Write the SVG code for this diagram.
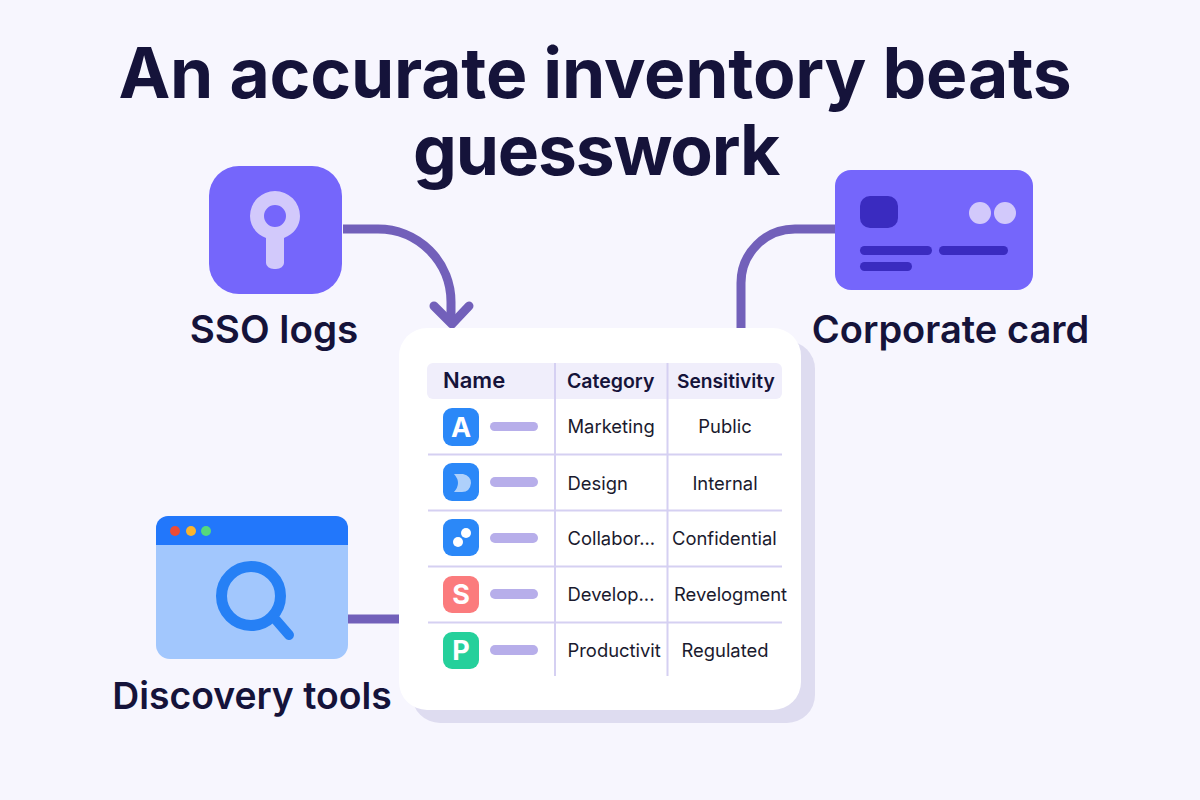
<svg xmlns="http://www.w3.org/2000/svg" width="1200" height="800" viewBox="0 0 1200 800">
<style>
text{font-family:Inter,"Liberation Sans",sans-serif;fill:#15133a}
.t{font-size:69.500px;font-weight:700;text-anchor:middle;letter-spacing:-.2px}
.l{font-size:38px;font-weight:600;text-anchor:middle}
.h{font-size:19.500px;font-weight:600}
.c{font-size:18.400px;font-weight:400;fill:#1a1a2e}
.m{text-anchor:middle}
.w{fill:#fff;font-size:27px;font-weight:700;text-anchor:middle}
.g{stroke:#d5d0f2;stroke-width:2;fill:none}
.b{fill:#b7aeea}
.d{fill:#3a2bc0}
.cn{fill:none;stroke:#7260ba;stroke-width:9}
</style>
<rect width="1200" height="800" fill="#f7f6fe"/>
<g id="title"><text class="t" x="595" y="98">An accurate inventory beats</text><text class="t" x="596" y="175" style="letter-spacing:-1.200px">guesswork</text></g>
<g id="connectors">
<path class="cn" d="M343 229H378A73 73 0 0 1 451 302V324"/>
<path class="cn" stroke-linecap="round" stroke-linejoin="round" d="M434 306L452 324L469 306"/>
<path class="cn" d="M835 229H795A54 54 0 0 0 741 283V328"/>
<path class="cn" d="M348 619H400"/>
</g>
<g id="sso-logs">
<rect x="209" y="166" width="133" height="128" rx="30" fill="#7566fb"/>
<path fill-rule="evenodd" fill="#d2c9fb" d="M250 216a25 25 0 0 1 50 0c0 10-6 18-16 22v25a8 6 0 0 1-8 6h-2a8 6 0 0 1-8-6v-25c-10-4-16-12-16-22zm14 0a11 11 0 1 0 22 0a11 11 0 1 0-22 0z"/>
<text class="l" x="274" y="343" style="font-size:38.600px">SSO logs</text>
</g>
<g id="corporate-card">
<rect x="835" y="170" width="198" height="120" rx="16" fill="#7566fb"/>
<rect x="860" y="196" width="38" height="32" rx="10" class="d"/>
<circle cx="980" cy="213" r="11" fill="#d2c9fb"/><circle cx="1005" cy="213" r="11" fill="#d2c9fb"/>
<rect x="860" y="246" width="72" height="9" rx="4.500" class="d"/><rect x="939" y="246" width="69" height="9" rx="4.500" class="d"/><rect x="860" y="262" width="52" height="9" rx="4.500" class="d"/>
<text class="l" x="950.500" y="343">Corporate card</text>
</g>
<g id="discovery-tools">
<path d="M156 545H348V645a14 14 0 0 1-14 14H170a14 14 0 0 1-14-14z" fill="#a2c7fd"/>
<path d="M156 545V528a12 12 0 0 1 12-12H336a12 12 0 0 1 12 12V545z" fill="#2277fb"/>
<circle cx="175" cy="531" r="5" fill="#ee4b35"/><circle cx="191" cy="531" r="5" fill="#fbb42c"/><circle cx="206" cy="531" r="5" fill="#55d97c"/>
<circle cx="251" cy="596" r="29.500" fill="none" stroke="#2680f5" stroke-width="11"/>
<path d="M276 620L289 635" stroke="#2680f5" stroke-width="10" stroke-linecap="round"/>
<text class="l" x="252" y="709" style="font-size:37.300px">Discovery tools</text>
</g>
<g id="inventory-table">
<rect x="412" y="341" width="403" height="382" rx="28" fill="#dedcf0"/>
<rect x="399" y="328" width="402" height="382" rx="28" fill="#fff"/>
<rect x="427" y="363" width="355" height="36" rx="6" fill="#f0eefb"/>
<path class="g" d="M555 363V676M667.500 363V676M428 454.500H782M428 510.500H782M428 566.500H782M428 622.500H782"/>
<text class="h" x="443" y="388" style="font-size:22px">Name</text><text class="h" x="567" y="388">Category</text><text class="h" x="677" y="388" style="font-size:19.200px">Sensitivity</text>
<g><rect x="443" y="408" width="36" height="38" rx="9" fill="#2b88f8"/><text class="w" x="461" y="437">A</text><rect x="490" y="422" width="48" height="9" rx="4.500" class="b"/><text class="c" x="567.500" y="433">Marketing</text><text class="c m" x="725" y="433">Public</text></g>
<g><rect x="443" y="463" width="36" height="38" rx="9" fill="#2b88f8"/><path d="M454 474H463Q471 476 471 483Q470 492 462 492H454Q462 483 454 474z" fill="#aed0fb"/><rect x="490" y="477" width="48" height="10" rx="5" class="b"/><text class="c" x="567.500" y="490">Design</text><text class="c m" x="725" y="490">Internal</text></g>
<g><rect x="443" y="519" width="36" height="37" rx="9" fill="#2b88f8"/><circle cx="466" cy="533" r="5" fill="#fff"/><circle cx="458" cy="542" r="5" fill="#fff"/><rect x="490" y="533" width="48" height="10" rx="5" class="b"/><text class="c" x="567.500" y="545">Collabor...</text><text class="c" x="672" y="545">Confidential</text></g>
<g><rect x="443" y="576" width="36" height="37" rx="9" fill="#fb7b7d"/><text class="w" x="461" y="604">S</text><rect x="490" y="589" width="48" height="10" rx="5" class="b"/><text class="c" x="567.500" y="601">Develop...</text><text class="c" x="674" y="601">Revelogment</text></g>
<g><rect x="443" y="632" width="36" height="37" rx="9" fill="#25d09b"/><text class="w" x="461" y="660">P</text><rect x="490" y="645" width="48" height="10" rx="5" class="b"/><text class="c" x="567.500" y="657">Productivit</text><text class="c m" x="725" y="657">Regulated</text></g>
</g>
</svg>
